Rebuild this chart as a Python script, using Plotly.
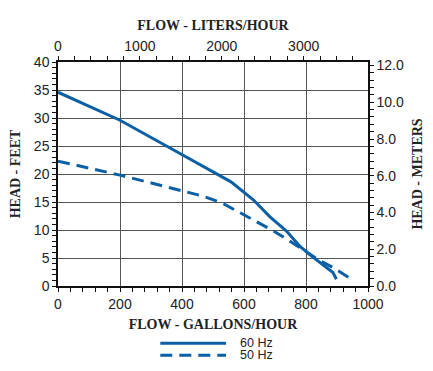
import plotly.graph_objects as go

# Data
gph_60 = [0, 200, 392, 558, 630, 683, 737, 780, 812, 855, 887, 898]
ft_60 = [34.6, 29.6, 23.7, 18.6, 15.4, 12.4, 9.8, 7.1, 5.6, 3.8, 2.4, 1.2]

gph_50 = [0, 200, 400, 470, 530, 580, 630, 690, 740, 790, 840, 890, 950]
ft_50 = [22.3, 19.8, 17.0, 16.0, 14.8, 13.3, 11.9, 10.0, 8.3, 6.5, 4.7, 3.2, 1.1]

series_names = ["60 Hz", "50 Hz"]

GAL_TO_L = 3.78541
FT_TO_M = 0.3048
x_max_gph = 1000
y_max_ft = 40

blue = "#0b5fa5"
dash_style = "12px,7px"
axis_col = "#111"
grid_col = "#555555"
tick_font = dict(family="Liberation Sans, Arial", size=14, color="#222")
title_font = dict(family="Liberation Serif, Times New Roman", size=14, color="#222", weight="bold")

fig = go.Figure()
fig.add_trace(go.Scatter(x=gph_60, y=ft_60, mode="lines", name=series_names[0],
                         line=dict(color=blue, width=3), showlegend=False))
fig.add_trace(go.Scatter(x=gph_50, y=ft_50, mode="lines", name=series_names[1],
                         line=dict(color=blue, width=3, dash=dash_style), showlegend=False))
# invisible trace to activate secondary axes
fig.add_trace(go.Scatter(x=[0], y=[0], xaxis="x2", yaxis="y2", mode="markers",
                         marker=dict(opacity=0), showlegend=False, hoverinfo="skip"))

# Manual legend (below the chart)
leg_x0, leg_x1, leg_tx = 0.33, 0.542, 0.585
leg_rows = [-0.2561, -0.3096]
for name, yy, dsh in zip(series_names, leg_rows, ["solid", dash_style]):
    fig.add_shape(type="line", xref="paper", yref="paper", x0=leg_x0, x1=leg_x1, y0=yy, y1=yy,
                  line=dict(color=blue, width=3, dash=dsh))
    fig.add_annotation(xref="paper", yref="paper", x=leg_tx, y=yy, text=name, showarrow=False,
                       xanchor="left", yanchor="middle", borderpad=0,
                       font=dict(family="Liberation Sans, Arial", size=12.5, color="#222"))

def minor(dt):
    return dict(dtick=dt, ticks="outside", ticklen=4, tickcolor=axis_col, showgrid=False)

common = dict(ticks="outside", ticklen=4, tickcolor=axis_col, tickwidth=1.2,
              showline=True, linecolor=axis_col, linewidth=1.5, zeroline=False,
              tickfont=tick_font)

# page body has an 8px default margin, so the figure is 16px smaller than the window
fig.update_layout(
    width=417, height=355,
    margin=dict(l=49.5, r=56.5, t=54, b=76.5, autoexpand=False),
    paper_bgcolor="white", plot_bgcolor="white",
    showlegend=False,
    xaxis=dict(range=[0, x_max_gph], dtick=200, tick0=0,
               showgrid=True, gridcolor=grid_col, gridwidth=1,
               minor=minor(40), **common,
               title=dict(text="FLOW - GALLONS/HOUR", font=title_font, standoff=9)),
    yaxis=dict(range=[0, y_max_ft], dtick=5, tick0=0,
               showgrid=True, gridcolor=grid_col, gridwidth=1,
               minor=minor(1), **common,
               title=dict(text="HEAD - FEET", font=title_font, standoff=10)),
    xaxis2=dict(range=[0, x_max_gph * GAL_TO_L], dtick=1000, tick0=0, overlaying="x",
                side="top", anchor="y", showgrid=False,
                minor=minor(200), **common,
                title=dict(text="FLOW - LITERS/HOUR", font=title_font, standoff=4)),
    yaxis2=dict(range=[0, y_max_ft * FT_TO_M], dtick=2, tick0=0, tickformat=".1f",
                overlaying="y", side="right", anchor="x", showgrid=False,
                minor=minor(0.4), **common,
                title=dict(text="HEAD - METERS", font=title_font, standoff=11)),
)

fig.write_html("out.html")
